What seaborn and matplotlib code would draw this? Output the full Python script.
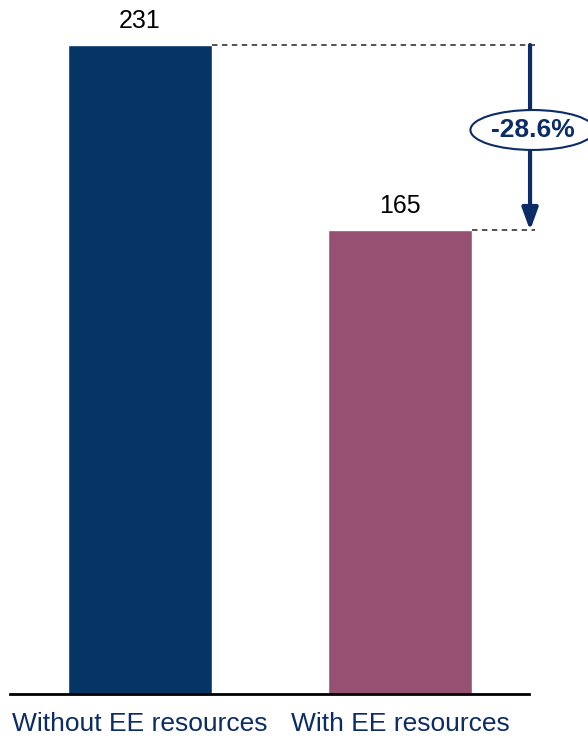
import matplotlib
matplotlib.use("Agg")
import matplotlib.pyplot as plt
import seaborn as sns
import pandas as pd

categories = ["Without EE resources", "With EE resources"]
values = [231, 165]
bar_colors = ["#043565", "#955072"]

NAVY = "#0b2c66"


def main():
    sns.set_theme(style="white")
    plt.rcParams["font.family"] = ["Liberation Sans", "DejaVu Sans"]

    fig = plt.figure(figsize=(5.88, 7.38), dpi=100)
    ax = fig.add_axes([10 / 588, 44 / 738, 519 / 588, 649 / 738])

    df = pd.DataFrame({"case": categories, "value": values})
    sns.barplot(df, x="case", y="value", hue="case", palette=bar_colors,
                width=0.554, legend=False, saturation=1, ax=ax)

    ax.set_xlim(-0.5, 1.496)
    ax.set_ylim(0, values[0])
    ax.set_xlabel("")
    ax.set_ylabel("")
    ax.set_yticks([])
    for side in ["top", "right", "left"]:
        ax.spines[side].set_visible(False)
    ax.spines["bottom"].set_color("black")
    ax.spines["bottom"].set_linewidth(2)
    ax.tick_params(axis="x", length=0, pad=13, labelsize=19, labelcolor=NAVY)

    # value labels
    for i, v in enumerate(values):
        ax.annotate(str(v), (i, v), xytext=(0, 9), textcoords="offset points",
                    ha="center", va="bottom", fontsize=18, color="black",
                    annotation_clip=False)

    # dashed guides
    x_end = 1.52
    half = 0.554 / 2
    for i, v in enumerate(values):
        ax.plot([i + half, x_end], [v, v], ls=(0, (3, 2.5)), color="#444444",
                lw=1.3, clip_on=False)

    # arrow
    x_arr = 1.5
    ax.annotate("", xy=(x_arr, values[1]), xytext=(x_arr, values[0]),
                arrowprops=dict(arrowstyle="-|>,head_width=0.4,head_length=1.1",
                                color=NAVY, lw=3, shrinkA=0, shrinkB=0),
                annotation_clip=False)

    pct = (values[1] - values[0]) / values[0] * 100
    ymid = values[0] - (130 - 45) / 2.81
    ax.text(x_arr + 0.01, ymid, f"{pct:.1f}%", ha="center", va="center",
            fontsize=19, fontweight="bold", color=NAVY, clip_on=False,
            bbox=dict(boxstyle="ellipse,pad=0.08", fc="white", ec=NAVY, lw=1.5))

    fig.savefig("out.png", dpi=100)


if __name__ == "__main__":
    main()
